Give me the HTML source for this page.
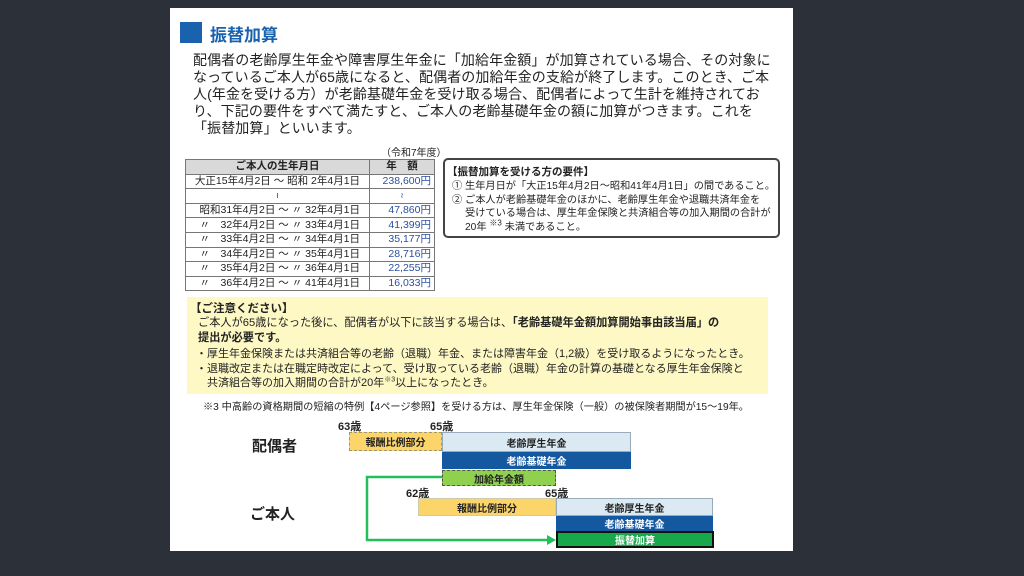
<!DOCTYPE html>
<html><head><meta charset="utf-8"><style>
*{margin:0;padding:0;box-sizing:border-box}
body{width:1024px;height:576px;background:#2c3038;position:relative;overflow:hidden;font-family:"Liberation Sans","Noto Sans CJK JP",sans-serif;color:#222}
.a{position:absolute;white-space:nowrap}
#pg{position:absolute;left:170px;top:8px;width:623px;height:543px;background:#fff}
p.t{position:absolute;left:193px;font-size:14px;line-height:17px;letter-spacing:0.1px}
table{border-collapse:collapse;position:absolute;left:185px;top:159px;width:250px;font-size:10.5px}
td{border:1px solid #777;height:14.6px;padding:0 3px;line-height:13px}
td.r{color:#2a4fa0;text-align:right;width:65px}
.b{position:absolute;display:flex;align-items:center;justify-content:center;font-size:10px;font-weight:bold}
sup{line-height:0}
</style></head><body>
<div id="pg"></div>
<div class="a" style="left:180px;top:22px;width:22px;height:21px;background:#1a62ae"></div>
<div class="a" style="left:210px;top:21px;font-size:17px;font-weight:bold;color:#1a62ae">振替加算</div>
<p class="t a" style="top:52px">配偶者の老齢厚生年金や障害厚生年金に「加給年金額」が加算されている場合、その対象に</p>
<p class="t a" style="top:69px">なっているご本人が65歳になると、配偶者の加給年金の支給が終了します。このとき、ご本</p>
<p class="t a" style="top:86px">人(年金を受ける方）が老齢基礎年金を受け取る場合、配偶者によって生計を維持されてお</p>
<p class="t a" style="top:103px">り、下記の要件をすべて満たすと、ご本人の老齢基礎年金の額に加算がつきます。これを</p>
<p class="t a" style="top:120px">「振替加算」といいます。</p>
<div class="a" style="left:381px;top:144px;font-size:10px">（令和7年度）</div>
<table>
<tr style="background:#d9d9d9;font-weight:bold"><td style="text-align:center;height:13px">ご本人の生年月日</td><td style="text-align:center;width:65px">年　額</td></tr>
<tr><td style="text-align:center">大正15年4月2日 ～ 昭和 2年4月1日</td><td class="r">238,600円</td></tr>
<tr><td style="text-align:center;font-size:8px">≀</td><td class="r" style="text-align:center;font-size:8px">≀</td></tr>
<tr><td>　昭和31年4月2日 ～ 〃 32年4月1日</td><td class="r">47,860円</td></tr>
<tr><td>　〃　32年4月2日 ～ 〃 33年4月1日</td><td class="r">41,399円</td></tr>
<tr><td>　〃　33年4月2日 ～ 〃 34年4月1日</td><td class="r">35,177円</td></tr>
<tr><td>　〃　34年4月2日 ～ 〃 35年4月1日</td><td class="r">28,716円</td></tr>
<tr><td>　〃　35年4月2日 ～ 〃 36年4月1日</td><td class="r">22,255円</td></tr>
<tr><td>　〃　36年4月2日 ～ 〃 41年4月1日</td><td class="r">16,033円</td></tr>
</table>
<div class="a" style="left:443px;top:158px;width:337px;height:80px;border:2px solid #444;border-radius:5px"></div>
<div class="a" style="left:447px;top:164px;font-size:10.5px;font-weight:bold">【振替加算を受ける方の要件】</div>
<div class="a" style="left:452px;top:180px;font-size:10.2px;line-height:13.5px">① 生年月日が「大正15年4月2日～昭和41年4月1日」の間であること。<br>② ご本人が老齢基礎年金のほかに、老齢厚生年金や退職共済年金を<br>　 受けている場合は、厚生年金保険と共済組合等の加入期間の合計が<br>　 20年 <sup style="font-size:8px">※3</sup> 未満であること。</div>
<div class="a" style="left:187px;top:297px;width:581px;height:97px;background:#fdf8c4"></div>
<div class="a" style="left:190px;top:300px;font-size:11.5px;font-weight:bold">【ご注意ください】</div>
<div class="a" style="left:198px;top:316px;font-size:11.2px;line-height:15px">ご本人が65歳になった後に、配偶者が以下に該当する場合は、<b>「老齢基礎年金額加算開始事由該当届」の</b><br><b>提出が必要です。</b></div>
<div class="a" style="left:196px;top:347px;font-size:11px;line-height:14.5px">・厚生年金保険または共済組合等の老齢（退職）年金、または障害年金（1,2級）を受け取るようになったとき。<br>・退職改定または在職定時改定によって、受け取っている老齢（退職）年金の計算の基礎となる厚生年金保険と<br>　共済組合等の加入期間の合計が20年<sup style="font-size:7px">※3</sup>以上になったとき。</div>
<div class="a" style="left:203px;top:398px;font-size:10.2px">※3 中高齢の資格期間の短縮の特例【4ページ参照】を受ける方は、厚生年金保険（一般）の被保険者期間が15～19年。</div>
<div class="a" style="left:252px;top:435px;font-size:15px;font-weight:bold">配偶者</div>
<div class="a" style="left:250px;top:503px;font-size:15px;font-weight:bold">ご本人</div>
<div class="a" style="left:338px;top:418px;font-size:11px;font-weight:bold">63歳</div>
<div class="a" style="left:430px;top:418px;font-size:11px;font-weight:bold">65歳</div>
<div class="a" style="left:406px;top:485px;font-size:11px;font-weight:bold">62歳</div>
<div class="a" style="left:545px;top:485px;font-size:11px;font-weight:bold">65歳</div>
<div class="b" style="left:349px;top:432px;width:93px;height:19px;background:#fcd56a;border:1px dashed #997">報酬比例部分</div>
<div class="b" style="left:442px;top:432px;width:189px;height:20px;background:#dbe9f3;border:1px solid #9ab">老齢厚生年金</div>
<div class="b" style="left:442px;top:452px;width:189px;height:17px;background:#1458a0;color:#fff">老齢基礎年金</div>
<div class="b" style="left:442px;top:470px;width:114px;height:16px;background:#8fd14f;border:1px dashed #555">加給年金額</div>
<div class="b" style="left:418px;top:498px;width:138px;height:18px;background:#fcd56a;border:1px solid #cca">報酬比例部分</div>
<div class="b" style="left:556px;top:498px;width:157px;height:18px;background:#dbe9f3;border:1px solid #9ab">老齢厚生年金</div>
<div class="b" style="left:556px;top:516px;width:157px;height:15px;background:#1458a0;color:#fff">老齢基礎年金</div>
<div class="b" style="left:556px;top:531px;width:158px;height:17px;background:#16a84a;color:#fff;border:2px solid #111">振替加算</div>
<svg class="a" style="left:0;top:0" width="1024" height="576"><polyline points="442,477 367,477 367,540 548,540" fill="none" stroke="#22c05a" stroke-width="2.5"/><polygon points="556,540 547,535 547,545" fill="#22c05a"/></svg>
</body></html>
